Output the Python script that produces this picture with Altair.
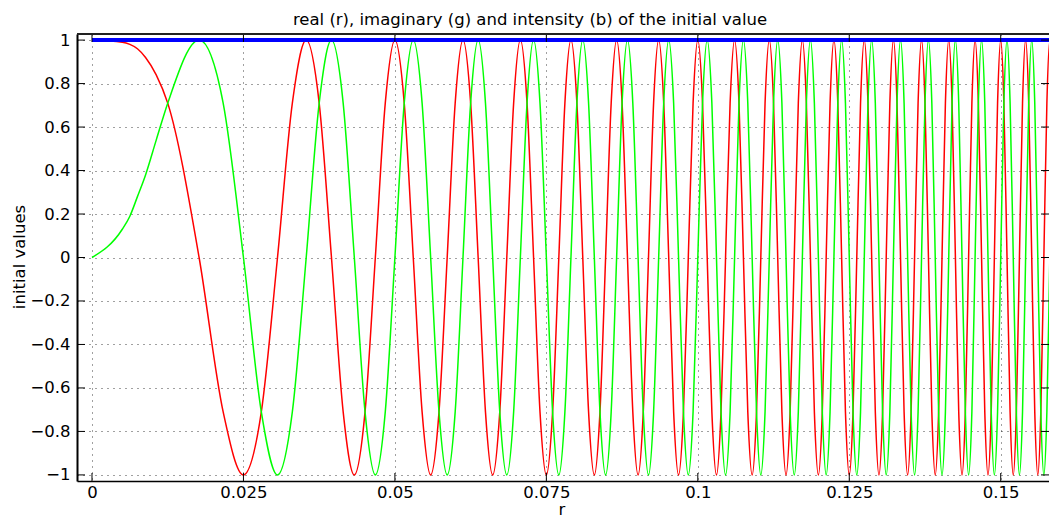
import altair as alt
import pandas as pd

# radius samples (read at quarter/eighth-period points of the chirp, denser near r = 0)
r = [0.0, 0.00500, 0.00625, 0.00750, 0.00884, 0.01060,
     0.01250, 0.01768, 0.02165, 0.02500, 0.02795, 0.03062, 0.03307,
     0.03536, 0.03750, 0.03953, 0.04146, 0.04330, 0.04507, 0.04677, 0.04841,
     0.05000, 0.05154, 0.05303, 0.05449, 0.05590, 0.05728, 0.05863, 0.05995,
     0.06124, 0.06250, 0.06374, 0.06495, 0.06614, 0.06731, 0.06847, 0.06960,
     0.07071, 0.07181, 0.07289, 0.07395, 0.07500, 0.07603, 0.07706, 0.07806,
     0.07906, 0.08004, 0.08101, 0.08197, 0.08292, 0.08385, 0.08478, 0.08570,
     0.08660, 0.08750, 0.08839, 0.08927, 0.09014, 0.09100, 0.09186, 0.09270,
     0.09354, 0.09437, 0.09520, 0.09601, 0.09682, 0.09763, 0.09843, 0.09922,
     0.10000, 0.10078, 0.10155, 0.10232, 0.10308, 0.10383, 0.10458, 0.10533,
     0.10607, 0.10680, 0.10753, 0.10825, 0.10897, 0.10969, 0.11040, 0.11110,
     0.11180, 0.11250, 0.11319, 0.11388, 0.11456, 0.11524, 0.11592, 0.11659,
     0.11726, 0.11792, 0.11859, 0.11924, 0.11990, 0.12055, 0.12119, 0.12183,
     0.12247, 0.12311, 0.12374, 0.12437, 0.12500, 0.12562, 0.12624, 0.12686,
     0.12748, 0.12809, 0.12870, 0.12930, 0.12990, 0.13050, 0.13110, 0.13170,
     0.13229, 0.13288, 0.13346, 0.13405, 0.13463, 0.13521, 0.13578, 0.13636,
     0.13693, 0.13750, 0.13807, 0.13863, 0.13919, 0.13975, 0.14031, 0.14087,
     0.14142, 0.14197, 0.14252, 0.14307, 0.14361, 0.14416, 0.14470, 0.14524,
     0.14577, 0.14631, 0.14684, 0.14737, 0.14790, 0.14843, 0.14895, 0.14948,
     0.15000, 0.15052, 0.15104, 0.15155, 0.15207, 0.15258, 0.15309, 0.15360,
     0.15411, 0.15462, 0.15512, 0.15562, 0.15612, 0.15662, 0.15712, 0.15762,
     0.15811, 0.15861, 0.15910, 0.15959, 0.16008, 0.16057, 0.16105, 0.16154,
     0.16202]

real = [1, 0.99, 0.98, 0.96, 0.92, 0.84,
        0.71, 0, -0.71, -1, -0.71, 0, 0.71,
        1, 0.71, 0, -0.71, -1, -0.71, 0, 0.71,
        1, 0.71, 0, -0.71, -1, -0.71, 0, 0.71,
        1, 0.71, 0, -0.71, -1, -0.71, 0, 0.71,
        1, 0.71, 0, -0.71, -1, -0.71, 0, 0.71,
        1, 0.71, 0, -0.71, -1, -0.71, 0, 0.71,
        1, 0.71, 0, -0.71, -1, -0.71, 0, 0.71,
        1, 0.71, 0, -0.71, -1, -0.71, 0, 0.71,
        1, 0.71, 0, -0.71, -1, -0.71, 0, 0.71,
        1, 0.71, 0, -0.71, -1, -0.71, 0, 0.71,
        1, 0.71, 0, -0.71, -1, -0.71, 0, 0.71,
        1, 0.71, 0, -0.71, -1, -0.71, 0, 0.71,
        1, 0.71, 0, -0.71, -1, -0.71, 0, 0.71,
        1, 0.71, 0, -0.71, -1, -0.71, 0, 0.71,
        1, 0.71, 0, -0.71, -1, -0.71, 0, 0.71,
        1, 0.71, 0, -0.71, -1, -0.71, 0, 0.71,
        1, 0.71, 0, -0.71, -1, -0.71, 0, 0.71,
        1, 0.71, 0, -0.71, -1, -0.71, 0, 0.71,
        1, 0.71, 0, -0.71, -1, -0.71, 0, 0.71,
        1, 0.71, 0, -0.71, -1, -0.71, 0, 0.71,
        1, 0.71, 0, -0.71, -1, -0.71, 0, 0.71,
        1]

imag = [0, 0.13, 0.19, 0.28, 0.38, 0.54,
        0.71, 1, 0.71, 0, -0.71, -1, -0.71,
        0, 0.71, 1, 0.71, 0, -0.71, -1, -0.71,
        0, 0.71, 1, 0.71, 0, -0.71, -1, -0.71,
        0, 0.71, 1, 0.71, 0, -0.71, -1, -0.71,
        0, 0.71, 1, 0.71, 0, -0.71, -1, -0.71,
        0, 0.71, 1, 0.71, 0, -0.71, -1, -0.71,
        0, 0.71, 1, 0.71, 0, -0.71, -1, -0.71,
        0, 0.71, 1, 0.71, 0, -0.71, -1, -0.71,
        0, 0.71, 1, 0.71, 0, -0.71, -1, -0.71,
        0, 0.71, 1, 0.71, 0, -0.71, -1, -0.71,
        0, 0.71, 1, 0.71, 0, -0.71, -1, -0.71,
        0, 0.71, 1, 0.71, 0, -0.71, -1, -0.71,
        0, 0.71, 1, 0.71, 0, -0.71, -1, -0.71,
        0, 0.71, 1, 0.71, 0, -0.71, -1, -0.71,
        0, 0.71, 1, 0.71, 0, -0.71, -1, -0.71,
        0, 0.71, 1, 0.71, 0, -0.71, -1, -0.71,
        0, 0.71, 1, 0.71, 0, -0.71, -1, -0.71,
        0, 0.71, 1, 0.71, 0, -0.71, -1, -0.71,
        0, 0.71, 1, 0.71, 0, -0.71, -1, -0.71,
        0, 0.71, 1, 0.71, 0, -0.71, -1, -0.71,
        0, 0.71, 1, 0.71, 0, -0.71, -1, -0.71,
        0]

intensity_r = [0.0, 0.162]
intensity = [1.0, 1.0]

x_ticks = [0, 0.025, 0.05, 0.075, 0.1, 0.125, 0.15]
y_ticks = [-1, -0.8, -0.6, -0.4, -0.2, 0, 0.2, 0.4, 0.6, 0.8, 1]

title_text = "real (r), imaginary (g) and intensity (b) of the initial value"
x_title = "r"
y_title = "initial values"

assert len(r) == len(real) == len(imag)

FONT = "DejaVu Sans"
FS = 16.5
W, H = 972, 447

xs = alt.Scale(domain=[-0.002476, 0.15797], nice=False, zero=False)
ys = alt.Scale(domain=[-1.028, 1.028], nice=False, zero=False)

xaxis = alt.Axis(values=x_ticks, title=None, grid=True, gridDash=[1, 5],
                 gridColor="#000", gridOpacity=0.75, gridWidth=1, ticks=False, tickSize=0,
                 domain=True, domainColor="#000", domainWidth=1.5,
                 labelFont=FONT, labelFontSize=FS, labelColor="#000", labelPadding=3,
                 labelExpr="format(datum.value, '~g')", labelFlush=False, labelOverlap=False)
yaxis = alt.Axis(values=y_ticks, title=None, grid=True, gridDash=[1, 5],
                 gridColor="#000", gridOpacity=0.75, gridWidth=1, ticks=False, tickSize=0,
                 domain=True, domainColor="#000", domainWidth=2,
                 labelFont=FONT, labelFontSize=FS, labelColor="#000", labelPadding=7,
                 labelExpr="format(datum.value, '~g')", labelFlush=False, labelOverlap=False)

df_curves = pd.DataFrame({"r": r, "real": real, "imag": imag})
df_int = pd.DataFrame({"r": intensity_r, "v": intensity})
xt = pd.DataFrame({"t": x_ticks})
yt = pd.DataFrame({"t": y_ticks})
one = pd.DataFrame({"a": [0]})

red = alt.Chart(df_curves).mark_line(color="#ff0000", strokeWidth=1.5,
                                     interpolate="monotone", clip=True).encode(
    x=alt.X("r:Q", scale=xs, axis=xaxis),
    y=alt.Y("real:Q", scale=ys, axis=yaxis))
green = alt.Chart(df_curves).mark_line(color="#00ff00", strokeWidth=1.5,
                                       interpolate="monotone", clip=True).encode(
    x=alt.X("r:Q", scale=xs, axis=xaxis),
    y=alt.Y("imag:Q", scale=ys, axis=yaxis))
blue = alt.Chart(df_int).mark_line(color="#0000ff", strokeWidth=4, clip=True).encode(
    x=alt.X("r:Q", scale=xs, axis=xaxis),
    y=alt.Y("v:Q", scale=ys, axis=yaxis))

tick_b = alt.Chart(xt).mark_rule(color="#000", strokeWidth=1).encode(
    x=alt.X("t:Q", scale=xs, axis=xaxis), y=alt.value(H), y2=alt.value(H - 8))
tick_t = alt.Chart(xt).mark_rule(color="#000", strokeWidth=1).encode(
    x=alt.X("t:Q", scale=xs, axis=xaxis), y=alt.value(0), y2=alt.value(8))
tick_l = alt.Chart(yt).mark_rule(color="#000", strokeWidth=1).encode(
    y=alt.Y("t:Q", scale=ys, axis=yaxis), x=alt.value(0), x2=alt.value(8))
tick_r = alt.Chart(yt).mark_rule(color="#000", strokeWidth=1).encode(
    y=alt.Y("t:Q", scale=ys, axis=yaxis), x=alt.value(W - 8), x2=alt.value(W))
top_border = alt.Chart(one).mark_rule(color="#222", strokeWidth=2).encode(
    x=alt.value(0), x2=alt.value(W), y=alt.value(0))

title = alt.Chart(one).mark_text(text=title_text, font=FONT, fontSize=FS, color="#000",
                                 align="center", baseline="alphabetic").encode(
    x=alt.value(453), y=alt.value(-9))
xlab = alt.Chart(one).mark_text(text=x_title, font=FONT, fontSize=FS, color="#000",
                                align="center", baseline="alphabetic").encode(
    x=alt.value(485), y=alt.value(481))
ylab = alt.Chart(one).mark_text(text=y_title, font=FONT, fontSize=FS, color="#000",
                                align="center", baseline="alphabetic", angle=270).encode(
    x=alt.value(-52), y=alt.value(223))

chart = alt.layer(red, green, blue, tick_b, tick_t, tick_l, tick_r, top_border,
                  title, xlab, ylab).properties(
    width=W, height=H,
    padding={"left": 77, "top": 34, "right": 0, "bottom": 37},
    autosize=alt.AutoSizeParams(type="none"),
    background="white",
).configure_view(stroke=None)

chart.save("out.html", embed_options={"renderer": "svg", "actions": False})
